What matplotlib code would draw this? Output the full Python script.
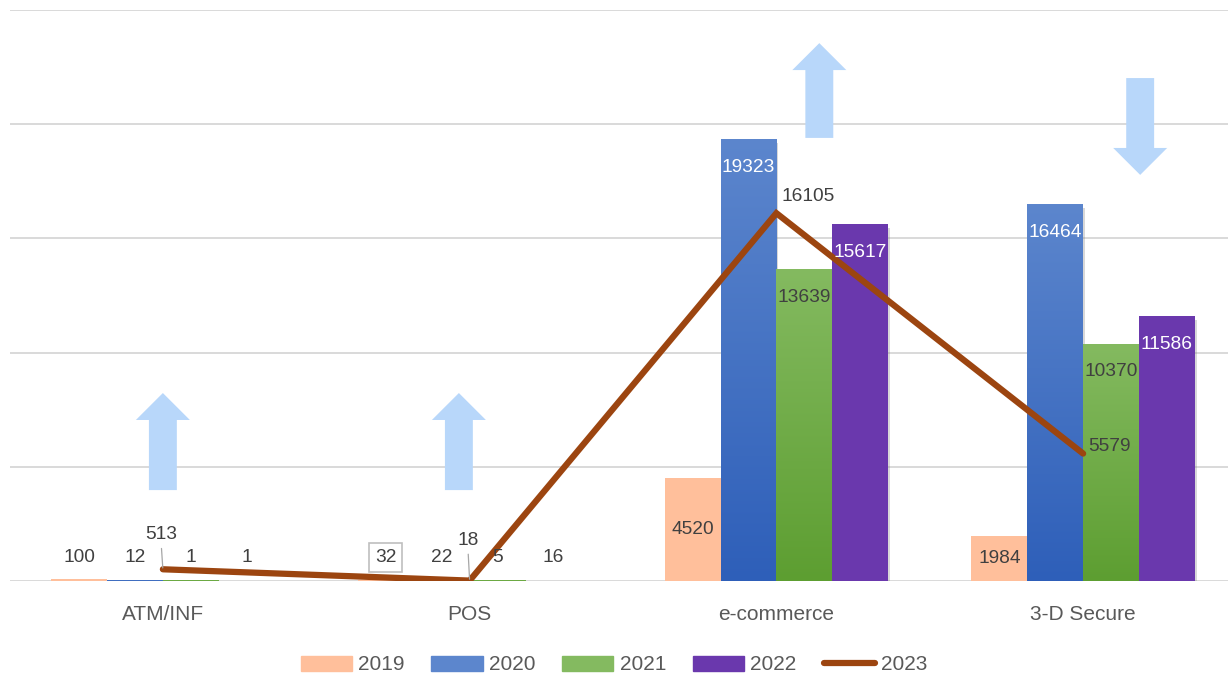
import numpy as np
import matplotlib
matplotlib.use('Agg')
import matplotlib.pyplot as plt
import matplotlib.patheffects as pe
from matplotlib.patches import FancyArrow, Patch
from matplotlib.lines import Line2D

plt.rcParams['font.family'] = ['Liberation Sans', 'DejaVu Sans']

categories = ['ATM/INF', 'POS', 'e-commerce', '3-D Secure']
years = ['2019', '2020', '2021', '2022']
vals_2019 = [100, 32, 4520, 1984]
vals_2020 = [12, 22, 19323, 16464]
vals_2021 = [1, 5, 13639, 10370]
vals_2022 = [1, 16, 15617, 11586]
vals_2023 = [513, 18, 16105, 5579]

# trend arrows: (x position, tail, tip)
trend_arrows = [(0.0, 3980, 8230), (0.965, 3980, 8230),
                (2.14, 19400, 23550), (3.186, 22020, 17780)]

LABEL = '#404040'
GRID = '#d9d9d9'
FS = 13.8
# flat colour or (top, bottom) gradient for each year
styles = {
    '2019': '#ffbf9b',
    '2020': ('#5c86cd', '#2e5fb9'),
    '2021': ('#84ba60', '#5d9e31'),
    '2022': '#6a38ad',
}
label_colors = {'2019': LABEL, '2020': 'white', '2021': LABEL, '2022': 'white'}

fig = plt.figure(figsize=(12.28, 6.77), dpi=100)
ax = fig.add_axes([9.5 / 1228, 96 / 677, 1227 / 1228, 571 / 677])
ax.set_xlim(-0.5, 3.5)
ax.set_ylim(0, 25000)

for y in range(0, 25001, 5000):
    ax.axhline(y, color=GRID, lw=1.4, zorder=0)

x = np.arange(len(categories))
w = 0.182
shadow = [pe.SimplePatchShadow(offset=(1.5, -2.5), shadow_rgbFace='#7f7f7f', alpha=0.3), pe.Normal()]

for i, (yr, vals) in enumerate(zip(years, [vals_2019, vals_2020, vals_2021, vals_2022])):
    st = styles[yr]
    xs = x + (i - 1.5) * w
    face = st if isinstance(st, str) else st[0]
    bars = ax.bar(xs, vals, w, color=face, zorder=2, path_effects=shadow)
    if not isinstance(st, str):
        top = np.array(matplotlib.colors.to_rgb(st[0]))
        bot = np.array(matplotlib.colors.to_rgb(st[1]))
        t = np.linspace(0, 1, 256)[:, None]
        grad = (top[None, :] * (1 - t) + bot[None, :] * t)[:, None, :]
        for b in bars:
            x0, h = b.get_x(), b.get_height()
            ax.imshow(grad, extent=(x0, x0 + w, 0, h), origin='upper',
                      aspect='auto', zorder=2.1, interpolation='bilinear')
    for xi, v in zip(xs, vals):
        if v < 1000:
            ax.annotate(str(v), (xi, 0), xytext=(0, 17), textcoords='offset points',
                        ha='center', va='center', fontsize=FS, color=LABEL, zorder=5,
                        bbox=dict(boxstyle='square,pad=0.3', fc='none', ec='#bfbfbf', lw=1.2) if v == 32 else None)
        elif yr == '2019':
            ax.text(xi, v / 2, str(v), ha='center', va='center', fontsize=FS, color=LABEL, zorder=5)
        else:
            ax.annotate(str(v), (xi, v), xytext=(0, -20), textcoords='offset points',
                        ha='center', va='center', fontsize=FS, color=label_colors[yr], zorder=5)

ax.plot(x, vals_2023, color='#9c4510', lw=4.5, solid_capstyle='round',
        solid_joinstyle='miter', zorder=4)

# 2023 labels
for xi, v in zip(x, vals_2023):
    if v < 1000:
        off = 25 if v > 100 else 29
        ax.annotate(str(v), (xi, v), xytext=(-1, off), textcoords='offset points',
                    ha='center', va='center', fontsize=FS, color=LABEL, zorder=5)
        ax.annotate('', (xi, v), xytext=(-1, off - 10), textcoords='offset points',
                    arrowprops=dict(arrowstyle='-', color='#a6a6a6', lw=0.9,
                                    shrinkA=0, shrinkB=1), zorder=5)
    else:
        dy = 12 if v > 10000 else 5
        ax.annotate(str(v), (xi, v), xytext=(4, dy), textcoords='offset points',
                    ha='left', va='center', fontsize=FS, color=LABEL, zorder=5)

for ax_x, tail, tip in trend_arrows:
    ax.add_patch(FancyArrow(ax_x, tail, 0, tip - tail, width=0.091, head_width=0.176,
                            head_length=1180, length_includes_head=True,
                            color='#b8d7fa', lw=0, zorder=3))

ax.set_xticks(x)
ax.set_xticklabels(categories, fontsize=15, color='#595959')
ax.tick_params(axis='x', length=0, pad=17)
ax.set_yticks([])
for s in ax.spines.values():
    s.set_visible(False)

handles = [Patch(color=styles['2019']),
           Patch(color=styles['2020'][0]),
           Patch(color=styles['2021'][0]),
           Patch(color=styles['2022']),
           Line2D([], [], color='#9c4510', lw=4.5, solid_capstyle='round')]
fig.legend(handles, years + ['2023'], loc='center', bbox_to_anchor=(0.5, 12 / 677),
           ncol=5, frameon=False, fontsize=15, labelcolor='#595959',
           handlelength=2.45, handleheight=0.7, handletextpad=0.3, columnspacing=1.3)

plt.savefig('out.png', dpi=100)
